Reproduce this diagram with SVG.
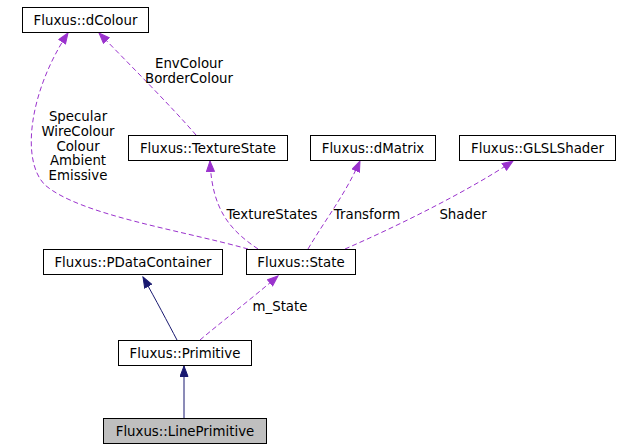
<svg xmlns="http://www.w3.org/2000/svg" width="619" height="448" viewBox="0 0 619 448">
<style>
.node rect{fill:#fff;stroke:#000;stroke-width:1}
.node text{font-family:"DejaVu Sans",sans-serif;font-size:13.33px;fill:#000;text-anchor:middle}
.lbl{font-family:"DejaVu Sans",sans-serif;font-size:13.33px;fill:#000;text-anchor:middle}
.inh{fill:none;stroke:#191970;stroke-width:1}
.use{fill:none;stroke:#9a32cd;stroke-width:1;stroke-dasharray:5,3}
</style>
<defs>
<marker id="an" markerWidth="12" markerHeight="10" refX="11" refY="4.5" orient="auto" markerUnits="userSpaceOnUse">
<path d="M0.5,0.5 L11,4.5 L0.5,8.5 Z" fill="#191970" stroke="#191970"/>
</marker>
<marker id="ap" markerWidth="12" markerHeight="10" refX="11" refY="4.5" orient="auto" markerUnits="userSpaceOnUse">
<path d="M0.5,0.5 L11,4.5 L0.5,8.5 Z" fill="#9a32cd" stroke="#9a32cd"/>
</marker>
</defs>
<rect width="619" height="448" fill="#fff"/>
<g id="edges">
<path class="inh" d="M177,340 C168,323 156,300 143,277" marker-end="url(#an)"/>
<path class="inh" d="M184,418 L184,366" marker-end="url(#an)"/>
<path class="use" d="M200,340 C220,323 250,300 278,276" marker-end="url(#ap)"/>
<path class="use" d="M258,249 C230,230 212,210 210,161" marker-end="url(#ap)"/>
<path class="use" d="M308,249 C325,220 345,195 360,161" marker-end="url(#ap)"/>
<path class="use" d="M345,249 C400,225 470,190 513,161" marker-end="url(#ap)"/>
<path class="use" d="M248,249 C180,230 80,215 45,185 C20,160 30,90 68,33" marker-end="url(#ap)"/>
<path class="use" d="M196,135 C170,105 130,65 99,33" marker-end="url(#ap)"/>
<text class="lbl" x="280" y="311">m_State</text>
<text class="lbl" x="272" y="219">TextureStates</text>
<text class="lbl" x="367" y="219">Transform</text>
<text class="lbl" x="463" y="219">Shader</text>
<text class="lbl" x="189" y="68">EnvColour</text>
<text class="lbl" x="189" y="83">BorderColour</text>
<text class="lbl" x="78" y="121">Specular</text>
<text class="lbl" x="78" y="136">WireColour</text>
<text class="lbl" x="78" y="151">Colour</text>
<text class="lbl" x="78" y="165">Ambient</text>
<text class="lbl" x="78" y="180">Emissive</text>
</g>
<g id="dColour" class="node"><rect x="22.5" y="7.5" width="126" height="25"/><text x="85.5" y="25">Fluxus::dColour</text></g>
<g id="TextureState" class="node"><rect x="128.5" y="135.5" width="159" height="25"/><text x="208" y="153">Fluxus::TextureState</text></g>
<g id="dMatrix" class="node"><rect x="310.5" y="135.5" width="125" height="25"/><text x="373" y="153">Fluxus::dMatrix</text></g>
<g id="GLSLShader" class="node"><rect x="459.5" y="135.5" width="156" height="25"/><text x="537.5" y="153">Fluxus::GLSLShader</text></g>
<g id="PDataContainer" class="node"><rect x="43.5" y="249.5" width="179" height="25"/><text x="133" y="267">Fluxus::PDataContainer</text></g>
<g id="State" class="node"><rect x="246.5" y="249.5" width="109" height="25"/><text x="301" y="267">Fluxus::State</text></g>
<g id="Primitive" class="node"><rect x="118.5" y="340.5" width="133" height="25"/><text x="185" y="358">Fluxus::Primitive</text></g>
<g id="LinePrimitive" class="node"><rect x="103.5" y="418.5" width="163" height="25" style="fill:#bfbfbf"/><text x="185" y="436">Fluxus::LinePrimitive</text></g>
</svg>
